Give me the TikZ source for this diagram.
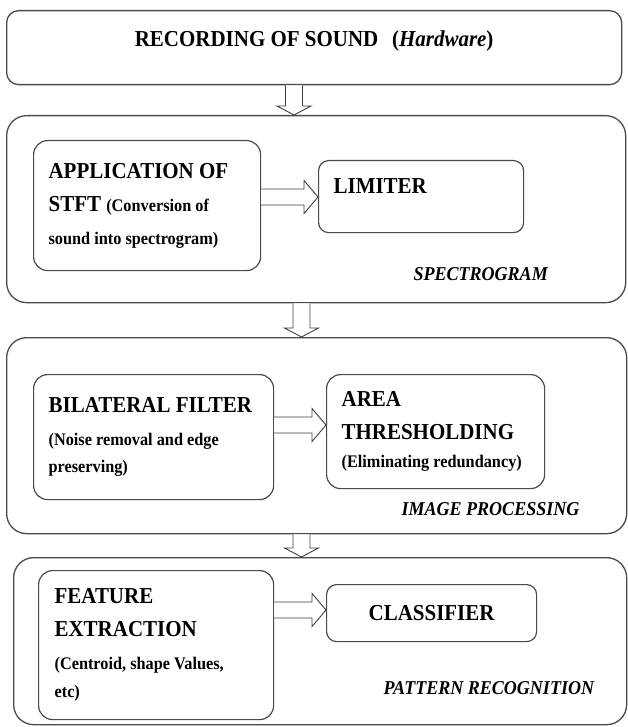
\documentclass[tikz,border=0pt]{standalone}
\usepackage{fontspec}
\setmainfont{Liberation Serif}[FakeStretch=0.92]
\usetikzlibrary{positioning,calc}
\definecolor{edge}{HTML}{4A4A4A}
\newcommand{\bigf}{\fontsize{22.8}{33}\selectfont}
\newcommand{\smf}{\fontsize{17.7}{33}\selectfont}
% hollow block arrows between named points
\newcommand{\flowdown}[2]{%
  \path (#1) coordinate (fs) (#2) coordinate (ft);
  \draw[hollow] ($(fs)+(-8.5,0)$) -- ($(ft)+(-8.5,-9)$) -- ($(ft)+(-17,-9)$) -- (ft)
    -- ($(ft)+(17,-9)$) -- ($(ft)+(8.5,-9)$) -- ($(fs)+(8.5,0)$);}
\newcommand{\flowright}[2]{%
  \path (#1) coordinate (fs) (#2) coordinate (ft);
  \draw[hollow] ($(fs)+(0,-8)$) -- ($(ft)+(-14,-8)$) -- ($(ft)+(-14,-16.5)$) -- (ft)
    -- ($(ft)+(-14,16.5)$) -- ($(ft)+(-14,8)$) -- ($(fs)+(0,8)$);}

\begin{document}
\begin{tikzpicture}[x=1pt,y=-1pt,
  outbox/.style={draw=edge,line width=1.3pt,rounded corners=20pt,anchor=north west,inner sep=0pt},
  inbox/.style={draw=edge,line width=1.2pt,rounded corners=14pt,anchor=north west,align=flush left,inner xsep=15pt,font=\bfseries\bigf},
  lbl/.style={anchor=base west,font=\bfseries\itshape\fontsize{19.6}{20}\selectfont},
  hollow/.style={draw=black!75,line width=0.9pt,fill=white,line join=miter}]
  \useasboundingbox (0,0) rectangle (627,727);
  % outer blocks
  \node[outbox,rounded corners=12pt,minimum width=615pt,minimum height=74pt,font=\bfseries\bigf,text height=15pt,text depth=17pt] (rec) at (6,10) {RECORDING OF SOUND\hspace{0.6em}(\textit{Hardware})};
  \node[outbox,minimum width=619pt,minimum height=187pt] (spec) at (6,115) {};
  \node[outbox,minimum width=620pt,minimum height=196pt] (imgp) at (6,337) {};
  \node[outbox,minimum width=613pt,minimum height=167pt] (patt) at (13,557) {};
  % inner blocks
  \node[inbox,minimum width=227pt,minimum height=130pt,text width=197pt] (stft) at (33,140) {APPLICATION OF\\STFT {\smf(Conversion of}\\{\smf sound into spectrogram)}};
  \node[inbox,minimum width=205pt,minimum height=72pt,text width=175pt,rounded corners=10pt,text height=15pt,text depth=21pt] (lim) at (318,160) {LIMITER};
  \node[inbox,minimum width=240pt,minimum height=125pt,text width=210pt] (bil) at (33,374) {BILATERAL FILTER\\{\smf(Noise removal and edge}\\[-6pt]{\smf preserving)}};
  \node[inbox,minimum width=218pt,minimum height=114pt,text width=188pt] (area) at (326,374) {AREA\\THRESHOLDING\\[-5pt]{\smf(Eliminating redundancy)}};
  \node[inbox,minimum width=235pt,minimum height=149pt,text width=203pt] (feat) at (38,570) {FEATURE\\EXTRACTION\\{\smf(Centroid, shape Values,}\\[-5pt]{\smf etc)}};
  \node[inbox,minimum width=210pt,minimum height=57pt,rounded corners=10pt,align=center,text width=180pt] (cls) at (326,584) {CLASSIFIER};
  % stage labels
  \node[lbl] (speclbl) at (410,280) {SPECTROGRAM};
  \node[lbl] (imglbl) at (398,515) {IMAGE PROCESSING};
  \node[lbl] (pattlbl) at (380,694) {PATTERN RECOGNITION};
  % arrows
  \flowdown{rec.south -| 294,0}{spec.north -| 294,0}
  \flowdown{spec.south -| 301.5,0}{imgp.north -| 301.5,0}
  \flowdown{imgp.south -| 301.5,0}{patt.north -| 301.5,0}
  \flowright{stft.east |- 0,197}{lim.west |- 0,197}
  \flowright{bil.east |- 0,425}{area.west |- 0,425}
  \flowright{feat.east |- 0,610}{cls.west |- 0,610}
\end{tikzpicture}
\end{document}
